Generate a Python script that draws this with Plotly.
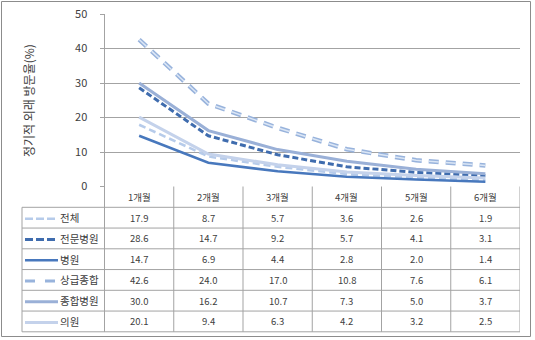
import plotly.graph_objects as go

# ---- data -------------------------------------------------------------
months = ["1개월", "2개월", "3개월", "4개월", "5개월", "6개월"]
series_names = ["전체", "전문병원", "병원", "상급종합", "종합병원", "의원"]
v_total = [17.9, 8.7, 5.7, 3.6, 2.6, 1.9]
v_specialty = [28.6, 14.7, 9.2, 5.7, 4.1, 3.1]
v_hospital = [14.7, 6.9, 4.4, 2.8, 2.0, 1.4]
v_tertiary = [42.6, 24.0, 17.0, 10.8, 7.6, 6.1]
v_general = [30.0, 16.2, 10.7, 7.3, 5.0, 3.7]
v_clinic = [20.1, 9.4, 6.3, 4.2, 3.2, 2.5]
y_ticks = [0, 10, 20, 30, 40, 50]
y_title = "정기적 외래 방문율(%)"

series_values = [v_total, v_specialty, v_hospital, v_tertiary, v_general, v_clinic]

# ---- styling ----------------------------------------------------------
W, H = 535, 340
FONT = "Noto Sans CJK KR"
TXT = "#404040"
GRID = "#a3a3a3"


def px(x):
    return x / W


def py(y):
    return 1 - y / H


# line style per series: (color, width, dash)
styles = [
    ("#b6cbea", 2.5, "7px,4px"),
    ("#3f6cae", 3, "6px,3px"),
    ("#4878bd", 2.5, "solid"),
    ("#98b3dc", 4.5, "10px,7px"),
    ("#9ab0d7", 3, "solid"),
    ("#c4d2eb", 3, "solid"),
]

fig = go.Figure()
for name, vals, (col, w, dash) in zip(series_names, series_values, styles):
    fig.add_trace(go.Scatter(
        x=months, y=vals, mode="lines", name=name,
        line=dict(color=col, width=w, dash=dash), showlegend=False,
    ))
    if name == "상급종합":
        # lighter core gives the hollow look of the long dashes
        fig.add_trace(go.Scatter(
            x=months, y=vals, mode="lines", name=name, hoverinfo="skip",
            line=dict(color="#dbe6f5", width=1.5, dash=dash), showlegend=False,
        ))

# ---- data table below the plot ---------------------------------------
x_left, x_axis, x_right = 22, 104.5, 520
head_top, head_bot = 186.5, 207.3
row_h = 20.75
n_rows = len(series_names)
shapes = []
annotations = []


def hline(y, x0, x1, xref="paper"):
    shapes.append(dict(type="line", xref=xref, yref="paper",
                       x0=x0, x1=x1, y0=py(y), y1=py(y),
                       line=dict(color=GRID, width=1)))


# horizontal rules of the table
for r in range(n_rows + 1):
    hline(head_bot + r * row_h, px(x_left), px(x_right))

bottom = head_bot + n_rows * row_h
# vertical rules: left edge of legend column, axis line, column borders
shapes.append(dict(type="line", xref="paper", yref="paper",
                   x0=px(x_left), x1=px(x_left), y0=py(head_bot), y1=py(bottom),
                   line=dict(color=GRID, width=1)))
shapes.append(dict(type="line", xref="paper", yref="paper",
                   x0=px(x_axis), x1=px(x_axis), y0=py(14), y1=py(bottom),
                   line=dict(color=GRID, width=1)))
for i in range(1, len(months) + 1):
    shapes.append(dict(type="line", xref="x", yref="paper",
                       x0=i - 0.5, x1=i - 0.5, y0=py(head_top), y1=py(bottom),
                       line=dict(color=GRID, width=1)))

# column headers
for m in months:
    annotations.append(dict(x=m, y=py((head_top + head_bot) / 2), xref="x", yref="paper",
                            text=m, showarrow=False, xanchor="center", yanchor="middle",
                            font=dict(family=FONT, size=9.5, color=TXT)))

# values and legend keys
for r, (name, vals, (col, w, dash)) in enumerate(zip(series_names, series_values, styles)):
    yc = head_bot + (r + 0.5) * row_h
    for m, v in zip(months, vals):
        annotations.append(dict(x=m, y=py(yc), xref="x", yref="paper",
                                text=f"{v:.1f}", showarrow=False,
                                xanchor="center", yanchor="middle",
                                font=dict(family=FONT, size=9.5, color=TXT)))
    annotations.append(dict(x=px(58), y=py(yc), xref="paper", yref="paper",
                            text=name, showarrow=False, xanchor="left", yanchor="middle",
                            font=dict(family=FONT, size=10.5, color=TXT)))
    key_dash = {"7px,4px": "8px,3px", "6px,3px": "8px,3px",
                "10px,7px": "10px,10px"}.get(dash, "solid")
    x1 = 58 if dash == "solid" else 55
    shapes.append(dict(type="line", xref="paper", yref="paper",
                       x0=px(25), x1=px(x1), y0=py(yc + 1), y1=py(yc + 1),
                       line=dict(color=col, width=min(w, 3), dash=key_dash)))

# y-axis title
annotations.append(dict(x=px(28), y=py(101), xref="paper", yref="paper",
                        text=y_title, showarrow=False, textangle=-90,
                        xanchor="center", yanchor="middle",
                        font=dict(family=FONT, size=12, color=TXT)))

# outer frame
shapes.append(dict(type="rect", xref="paper", yref="paper",
                   x0=px(1.5), x1=px(530.5), y0=py(1.5), y1=py(336.5),
                   line=dict(color="#8c8c8c", width=1)))

fig.update_layout(
    width=W, height=H, autosize=False,
    margin=dict(l=0, r=0, t=0, b=0, pad=0, autoexpand=False),
    paper_bgcolor="white", plot_bgcolor="white",
    xaxis=dict(domain=[px(x_axis), px(x_right)], type="category",
               range=[-0.5, len(months) - 0.5], automargin=False,
               showticklabels=False, showgrid=False, zeroline=False,
               showline=False, ticks=""),
    yaxis=dict(domain=[py(head_top), py(14)], range=[0, 50], automargin=False,
               tickvals=y_ticks, ticks="outside", ticklen=4, tickcolor=GRID,
               showline=False, gridcolor=GRID, gridwidth=1, zeroline=False,
               ticklabelstandoff=10,
               tickfont=dict(family=FONT, size=11, color=TXT)),
    shapes=shapes, annotations=annotations,
)

# pin the graph to the window's top-left corner
pin = (
    "document.documentElement.style.margin='0';"
    "document.body.style.margin='0';"
    "document.body.style.overflow='hidden';"
    "var gd=document.getElementById('{plot_id}');"
    "gd.style.position='fixed';gd.style.left='0px';gd.style.top='0px';"
)
fig.write_html("out.html", post_script=pin)
